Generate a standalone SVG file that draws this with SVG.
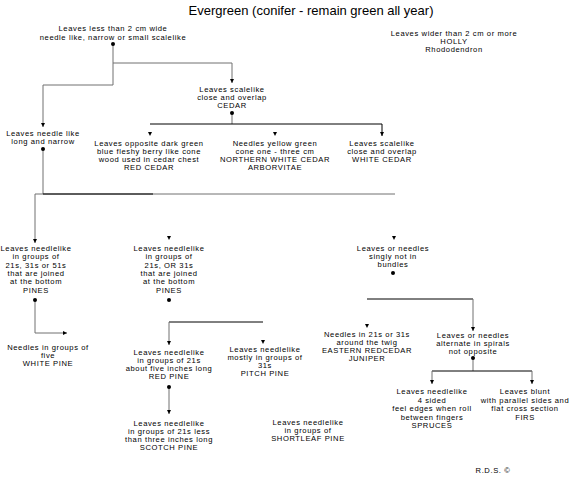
<svg xmlns="http://www.w3.org/2000/svg" xmlns:xlink="http://www.w3.org/1999/xlink" width="576" height="480" viewBox="0 0 576 480">
<style>
text{font-family:"Liberation Sans",Arial,sans-serif;font-size:7.6px;letter-spacing:0.6px;fill:#000;text-anchor:middle}
.title{font-size:13px;letter-spacing:0}
.g{fill:none;stroke:#707070;stroke-width:1}
.k{fill:none;stroke:#000;stroke-width:1}
.dot{fill:#000}
</style>
<defs>
<marker id="ah" viewBox="0 0 6 6" refX="6" refY="3" markerWidth="4" markerHeight="4" markerUnits="userSpaceOnUse" orient="auto"><path d="M0,0 L6,3 L0,6 z" fill="#000"/></marker>
<path id="tri" d="M-2,-4 L2,-4 L0,0 z" fill="#000"/>
</defs>
<rect width="576" height="480" fill="#fff"/>
<text class="title" x="311" y="15">Evergreen (conifer - remain green all year)</text>

<g id="connectors">
<path class="g" d="M113,44 V85 H43 V127" marker-end="url(#ah)"/>
<path class="g" d="M113,63 H232 V83" marker-end="url(#ah)"/>
<path class="g" d="M232,113 V124"/>
<path class="k" d="M150,124 H382 V136" marker-end="url(#ah)"/>
<use xlink:href="#tri" x="150" y="136"/>
<use xlink:href="#tri" x="275" y="136"/>
<path class="g" d="M43,149 V194"/>
<path class="g" d="M35,194 H395"/>
<path class="k" d="M43,194 H153"/>
<path class="g" d="M35,194 V243" marker-end="url(#ah)"/>
<use xlink:href="#tri" x="169" y="240"/>
<use xlink:href="#tri" x="394" y="240"/>
<path class="g" d="M35,300 V333 H67" marker-end="url(#ah)"/>
<path class="k" d="M169,322 H263"/>
<path class="g" d="M169,322 V345" marker-end="url(#ah)"/>
<use xlink:href="#tri" x="263" y="344"/>
<path class="g" d="M169,387 V414" marker-end="url(#ah)"/>
<path class="k" d="M367,299 H473"/>
<path class="g" d="M473,299 V331" marker-end="url(#ah)"/>
<use xlink:href="#tri" x="367" y="328"/>
<path class="g" d="M473,358 V371"/>
<path class="k" d="M432,371 H532"/>
<path class="g" d="M432,371 V384" marker-end="url(#ah)"/>
<path class="g" d="M532,371 V384" marker-end="url(#ah)"/>
<circle class="dot" cx="113" cy="44" r="2"/>
<circle class="dot" cx="232" cy="113" r="2"/>
<circle class="dot" cx="43" cy="149" r="2"/>
<circle class="dot" cx="35" cy="300" r="2"/>
<circle class="dot" cx="169" cy="300" r="2"/>
<circle class="dot" cx="393" cy="273" r="2"/>
<circle class="dot" cx="169" cy="387" r="2"/>
<circle class="dot" cx="473" cy="358" r="2"/>
</g>

<g id="n-root"><text x="113" y="31">Leaves less than 2 cm wide</text><text x="113" y="40">needle like, narrow or small scalelike</text></g>
<g id="n-holly"><text x="454" y="36">Leaves wider than 2 cm or more</text><text x="454" y="44">HOLLY</text><text x="454" y="52">Rhododendron</text></g>
<g id="n-cedar"><text x="232" y="92">Leaves scalelike</text><text x="232" y="100">close and overlap</text><text x="232" y="108">CEDAR</text></g>
<g id="n-redcedar"><text x="149" y="146">Leaves opposite dark green</text><text x="149" y="154">blue fleshy berry like cone</text><text x="149" y="162">wood used in cedar chest</text><text x="149" y="170">RED CEDAR</text></g>
<g id="n-northern"><text x="275" y="146">Needles yellow green</text><text x="275" y="154">cone one - three cm</text><text x="275" y="162">NORTHERN WHITE CEDAR</text><text x="275" y="170">ARBORVITAE</text></g>
<g id="n-whitecedar"><text x="382" y="146">Leaves scalelike</text><text x="382" y="154">close and overlap</text><text x="382" y="162">WHITE CEDAR</text></g>
<g id="n-needle"><text x="43" y="136">Leaves needle like</text><text x="43" y="144">long and narrow</text></g>
<g id="n-pines1"><text x="36" y="251">Leaves needlelike</text><text x="36" y="259">in groups of</text><text x="36" y="268">21s, 31s or 51s</text><text x="36" y="276">that are joined</text><text x="36" y="284">at the bottom</text><text x="36" y="293">PINES</text></g>
<g id="n-pines2"><text x="169" y="251">Leaves needlelike</text><text x="169" y="259">in groups of</text><text x="169" y="268">21s, OR 31s</text><text x="169" y="276">that are joined</text><text x="169" y="284">at the bottom</text><text x="169" y="293">PINES</text></g>
<g id="n-singly"><text x="393" y="251">Leaves or needles</text><text x="393" y="259">singly not in</text><text x="393" y="267">bundles</text></g>
<g id="n-whitepine"><text x="48" y="350">Needles in groups of</text><text x="48" y="358">five</text><text x="48" y="366">WHITE PINE</text></g>
<g id="n-redpine"><text x="169" y="355">Leaves needlelike</text><text x="169" y="363">in groups of 21s</text><text x="169" y="371">about five inches long</text><text x="169" y="379">RED PINE</text></g>
<g id="n-pitchpine"><text x="265" y="352">Leaves needlelike</text><text x="265" y="360">mostly in groups of</text><text x="265" y="368">31s</text><text x="265" y="376">PITCH PINE</text></g>
<g id="n-juniper"><text x="367" y="337">Needles in 21s or 31s</text><text x="367" y="345">around the twig</text><text x="367" y="353">EASTERN REDCEDAR</text><text x="367" y="361">JUNIPER</text></g>
<g id="n-alternate"><text x="473" y="338">Leaves or needles</text><text x="473" y="346">alternate in spirals</text><text x="473" y="354">not opposite</text></g>
<g id="n-scotch"><text x="169" y="426">Leaves needlelike</text><text x="169" y="434">in groups of 21s less</text><text x="169" y="442">than three inches long</text><text x="169" y="450">SCOTCH PINE</text></g>
<g id="n-shortleaf"><text x="308" y="425">Leaves needlelike</text><text x="308" y="433">in groups of</text><text x="308" y="441">SHORTLEAF PINE</text></g>
<g id="n-spruces"><text x="432" y="394">Leaves needlelike</text><text x="432" y="403">4 sided</text><text x="432" y="411">feel edges when roll</text><text x="432" y="420">between fingers</text><text x="432" y="428">SPRUCES</text></g>
<g id="n-firs"><text x="525" y="394">Leaves blunt</text><text x="525" y="403">with parallel sides and</text><text x="525" y="411">flat cross section</text><text x="525" y="420">FIRS</text></g>
<text x="493" y="473">R.D.S. ©</text>
</svg>
